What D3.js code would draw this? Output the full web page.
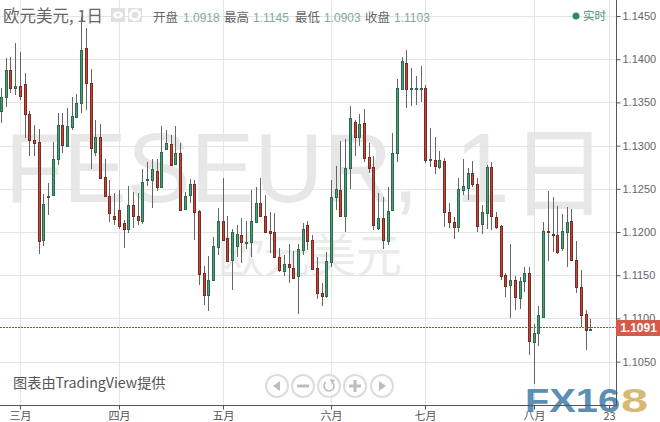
<!DOCTYPE html>
<html><head><meta charset="utf-8">
<script src="https://cdn.jsdelivr.net/npm/d3@7"></script>
<style>
html,body{margin:0;padding:0;background:#fff;overflow:hidden}
svg{display:block}
text{font-family:"Liberation Sans",Arial,"Noto Sans CJK SC",sans-serif}
.cjk{font-family:"Noto Sans CJK SC","Liberation Sans",sans-serif}
</style></head><body>
<div id="chart"></div>
<script>
const opens=[1.1340,1.1356,1.1387,1.1367,1.1369,1.1371,1.1337,1.1306,1.1304,1.1191,
1.1240,1.1243,1.1284,1.1324,1.1300,1.1322,1.1333,1.1349,1.1413,1.1372,
1.1293,1.1310,1.1264,1.1242,1.1219,1.1225,1.1210,1.1203,1.1231,1.1218,
1.1213,1.1260,1.1260,1.1271,1.1252,1.1296,1.1302,1.1279,1.1291,1.1227,
1.1243,1.1255,1.1224,1.1152,1.1127,1.1145,1.1183,1.1213,1.1193,1.1168,
1.1184,1.1197,1.1188,1.1189,1.1212,1.1234,1.1219,1.1201,1.1200,1.1171,
1.1155,1.1163,1.1158,1.1149,1.1179,1.1208,1.1191,1.1158,1.1129,1.1126,
1.1165,1.1240,1.1249,1.1219,1.1274,1.1327,1.1310,1.1326,1.1287,1.1275,
1.1205,1.1216,1.1190,1.1225,1.1291,1.1366,1.1396,1.1365,1.1367,1.1367,
1.1367,1.1284,1.1283,1.1275,1.1282,1.1223,1.1212,1.1206,1.1249,1.1251,
1.1268,1.1256,1.1209,1.1222,1.1275,1.1217,1.1207,1.1150,1.1139,1.1144,
1.1124,1.1143,1.1152,1.1073,1.1083,1.1102,1.1201,1.1198,1.1196,1.1181,
1.1200,1.1213,1.1168,1.1136,1.1105,1.1087];
const closes=[1.1356,1.1387,1.1367,1.1369,1.1357,1.1336,1.1306,1.1303,1.1190,1.1232,
1.1242,1.1284,1.1324,1.1301,1.1323,1.1334,1.1349,1.1411,1.1372,1.1297,
1.1310,1.1263,1.1242,1.1222,1.1215,1.1207,1.1203,1.1231,1.1218,1.1214,
1.1258,1.1261,1.1273,1.1252,1.1293,1.1303,1.1278,1.1291,1.1226,1.1242,
1.1255,1.1223,1.1151,1.1127,1.1145,1.1184,1.1213,1.1191,1.1167,1.1200,
1.1198,1.1188,1.1189,1.1213,1.1233,1.1219,1.1200,1.1199,1.1171,1.1156,
1.1163,1.1159,1.1147,1.1180,1.1203,1.1190,1.1157,1.1129,1.1126,1.1166,
1.1241,1.1250,1.1219,1.1274,1.1332,1.1310,1.1325,1.1286,1.1274,1.1208,
1.1216,1.1191,1.1224,1.1291,1.1367,1.1398,1.1365,1.1367,1.1367,1.1367,
1.1283,1.1284,1.1276,1.1283,1.1223,1.1212,1.1206,1.1250,1.1253,1.1268,
1.1256,1.1207,1.1223,1.1275,1.1219,1.1206,1.1149,1.1138,1.1145,1.1125,
1.1143,1.1153,1.1074,1.1083,1.1104,1.1201,1.1200,1.1197,1.1177,1.1201,
1.1211,1.1168,1.1136,1.1104,1.1087,1.1088];
const highs=[1.1367,1.1401,1.1403,1.1419,1.1408,1.1384,1.1340,1.1324,1.1319,1.1244,
1.1257,1.1304,1.1338,1.1338,1.1344,1.1356,1.1360,1.1449,1.1436,1.1389,
1.1330,1.1325,1.1284,1.1260,1.1245,1.1249,1.1214,1.1253,1.1246,1.1245,
1.1273,1.1281,1.1285,1.1285,1.1323,1.1318,1.1312,1.1323,1.1303,1.1246,
1.1261,1.1260,1.1225,1.1161,1.1172,1.1194,1.1228,1.1263,1.1218,1.1203,
1.1208,1.1216,1.1213,1.1249,1.1252,1.1262,1.1243,1.1223,1.1222,1.1182,
1.1173,1.1186,1.1178,1.1186,1.1210,1.1213,1.1197,1.1171,1.1141,1.1177,
1.1260,1.1276,1.1305,1.1308,1.1346,1.1330,1.1337,1.1342,1.1303,1.1288,
1.1245,1.1241,1.1252,1.1315,1.1377,1.1403,1.1411,1.1390,1.1381,1.1392,
1.1370,1.1320,1.1310,1.1294,1.1286,1.1233,1.1217,1.1262,1.1284,1.1274,
1.1282,1.1262,1.1231,1.1278,1.1281,1.1223,1.1208,1.1153,1.1186,1.1149,
1.1148,1.1159,1.1159,1.1094,1.1114,1.1211,1.1247,1.1241,1.1230,1.1221,
1.1229,1.1227,1.1190,1.1156,1.1110,1.1099];
const lows=[1.1326,1.1345,1.1361,1.1359,1.1353,1.1309,1.1288,1.1288,1.1175,1.1184,
1.1220,1.1243,1.1277,1.1292,1.1298,1.1318,1.1333,1.1338,1.1341,1.1273,
1.1288,1.1262,1.1241,1.1212,1.1208,1.1203,1.1182,1.1199,1.1205,1.1208,
1.1209,1.1253,1.1228,1.1248,1.1251,1.1296,1.1277,1.1278,1.1225,1.1225,
1.1234,1.1191,1.1139,1.1116,1.1109,1.1145,1.1173,1.1191,1.1166,1.1133,
1.1171,1.1164,1.1180,1.1171,1.1212,1.1219,1.1200,1.1176,1.1171,1.1154,
1.1149,1.1141,1.1146,1.1105,1.1173,1.1179,1.1157,1.1122,1.1114,1.1124,
1.1159,1.1225,1.1219,1.1200,1.1250,1.1288,1.1300,1.1281,1.1268,1.1202,
1.1202,1.1180,1.1185,1.1225,1.1281,1.1365,1.1344,1.1346,1.1347,1.1350,
1.1280,1.1275,1.1267,1.1273,1.1206,1.1205,1.1192,1.1200,1.1243,1.1237,
1.1252,1.1200,1.1198,1.1203,1.1202,1.1204,1.1144,1.1125,1.1100,1.1110,
1.1111,1.1131,1.1058,1.1024,1.1068,1.1102,1.1166,1.1177,1.1175,1.1178,
1.1160,1.1168,1.1129,1.1090,1.1063,1.1085];
const priceTicks=[1.1450,1.1400,1.1350,1.1300,1.1250,1.1200,1.1150,1.1100,1.1050];
const monthTickIndex=[4,25,47,70,90,113,129];
const monthTickLabels=["三月","四月","五月","六月","七月","八月","23"];
const lastPrice=1.1091;
const headerLabels=["开盘","最高","最低","收盘"];
const headerValues=["1.0918","1.1145","1.0903","1.1103"];

const W=660,H=422,axisX=616.5,axisY=405.5;
const x=d3.scaleLinear().domain([0,opens.length-1]).range([1,590.3]);
const y=d3.scaleLinear().domain([1.12,1.145]).range([232,16]);
const cx=i=>Math.round(x(i))+0.5;
const svg=d3.select("#chart").append("svg").attr("width",W).attr("height",H);

// watermark
const wm=svg.append("g").attr("class","watermark").attr("fill","#e7e7e7");
wm.append("text").attr("transform","translate(4.7,202) scale(.975,1)").attr("font-size",98).text("FESEUR,");
wm.append("text").attr("x",455).attr("y",202).attr("font-size",98).text("1");
wm.append("text").attr("class","cjk").attr("x",510).attr("y",208).attr("font-size",98).text("日");
wm.append("text").attr("class","cjk").attr("x",310).attr("y",272).attr("text-anchor","middle")
  .attr("font-size",46).attr("fill","#ebebeb").text("欧元美元");

// grid
const grid=svg.append("g").attr("stroke","#e4e4e4").attr("stroke-width",1);
grid.selectAll("line.h").data(priceTicks).join("line").attr("class","h")
  .attr("x1",0).attr("x2",axisX).attr("y1",d=>Math.round(y(d))+.5).attr("y2",d=>Math.round(y(d))+.5);
grid.selectAll("line.v").data(monthTickIndex).join("line").attr("class","v")
  .attr("y1",0).attr("y2",axisY).attr("x1",d=>cx(d)).attr("x2",d=>cx(d));

// candles
const idx=d3.range(opens.length);
const bars=svg.append("g").attr("class","candles");
bars.selectAll("line.wick").data(idx).join("line").attr("class","wick")
  .attr("x1",cx).attr("x2",cx)
  .attr("y1",i=>Math.round(y(highs[i]))).attr("y2",i=>Math.round(y(lows[i])))
  .attr("stroke","#666").attr("stroke-width",1);
bars.selectAll("rect").data(idx).join("rect")
  .attr("x",i=>cx(i)-1).attr("width",2)
  .attr("y",i=>Math.round(y(Math.max(opens[i],closes[i])))+.5)
  .attr("height",i=>Math.max(1,Math.round(y(Math.min(opens[i],closes[i])))-Math.round(y(Math.max(opens[i],closes[i])))))
  .attr("fill",i=>closes[i]>=opens[i]?"#4f9d76":"#c2493a")
  .attr("stroke",i=>closes[i]>=opens[i]?"#2b6a4c":"#7a2a20").attr("stroke-width",1);

// last price line
svg.append("line").attr("x1",0).attr("x2",axisX).attr("y1",Math.round(y(lastPrice))+1.5).attr("y2",Math.round(y(lastPrice))+1.5)
  .attr("stroke","#c0432f").attr("stroke-width",1).attr("stroke-dasharray","2,1");

// logo (under the axis)
svg.append("text").attr("x",525).attr("y",412).attr("font-size",34).attr("font-weight","bold").attr("fill","#4f86ad").attr("textLength",95).attr("lengthAdjust","spacingAndGlyphs").attr("opacity",.92).text("FX16");
svg.append("text").attr("x",621).attr("y",412).attr("font-size",34).attr("font-weight","bold").attr("fill","#d8b56f").attr("textLength",27).attr("lengthAdjust","spacingAndGlyphs").attr("opacity",.95).text("8");

// axes
const yAxis=d3.axisRight(y).tickValues(priceTicks).tickFormat(d3.format(".4f")).tickSize(4).tickPadding(2);
const gy=svg.append("g").attr("transform",`translate(${axisX},0)`).call(yAxis);
gy.select(".domain").remove();
gy.selectAll("text").attr("font-size",11).attr("fill","#666").attr("font-family","'Liberation Sans',sans-serif");
gy.selectAll("line").attr("stroke","#555");
const xAxis=d3.axisBottom(x).tickValues(monthTickIndex).tickFormat((d,i)=>monthTickLabels[i]).tickSize(4).tickPadding(2.5);
const gx=svg.append("g").attr("transform",`translate(0,${axisY})`).call(xAxis);
gx.select(".domain").remove();
gx.selectAll(".tick").attr("transform",d=>`translate(${cx(d)},0)`);
gx.selectAll("text").attr("class","cjk").attr("font-size",11).attr("fill","#555").attr("font-family","'Noto Sans CJK SC',sans-serif");
gx.selectAll("line").attr("stroke","#555");
svg.append("line").attr("x1",0).attr("x2",axisX+.5).attr("y1",axisY).attr("y2",axisY).attr("stroke","#555");
svg.append("line").attr("x1",axisX).attr("x2",axisX).attr("y1",0).attr("y2",axisY).attr("stroke","#555");

// last price tag
svg.append("rect").attr("x",616).attr("y",320).attr("width",44).attr("height",16).attr("fill","#d65a4a");
svg.append("text").attr("x",638.5).attr("y",332).attr("text-anchor","middle").attr("font-size",12).attr("font-weight","bold").attr("fill","#fff").text(d3.format(".4f")(lastPrice));

// title
svg.append("text").attr("class","cjk").attr("x",3).attr("y",22).attr("font-size",16.5).attr("fill","#666").text("欧元美元, 1日");
// icons
[111,128].forEach((px,k)=>{
  svg.append("rect").attr("x",px).attr("y",8).attr("width",14).attr("height",14).attr("fill","#e0e0e0");
  if(k===0){
    svg.append("ellipse").attr("cx",px+7).attr("cy",15).attr("rx",5).attr("ry",3.5).attr("fill","#fff");
    svg.append("circle").attr("cx",px+7).attr("cy",15).attr("r",1.8).attr("fill","#e0e0e0");
  }else{
    svg.append("circle").attr("cx",px+7).attr("cy",15).attr("r",4.5).attr("fill","none").attr("stroke","#fff").attr("stroke-width",2.4);
    svg.append("circle").attr("cx",px+7).attr("cy",15).attr("r",5.6).attr("fill","none").attr("stroke","#fff").attr("stroke-width",1.6).attr("stroke-dasharray","2,2.4");
  }
});
// OHLC header
const labelX=[153,224,295,365], valueX=[183,253,324,394];
headerLabels.forEach((t,i)=>{
  svg.append("text").attr("class","cjk").attr("x",labelX[i]).attr("y",22).attr("font-size",12.5).attr("fill","#666").text(t);
  svg.append("text").attr("x",valueX[i]).attr("y",22).attr("font-size",12).attr("fill","#7fab95").text(headerValues[i]);
});
// realtime
svg.append("circle").attr("cx",576).attr("cy",16).attr("r",3.5).attr("fill","#2e8b5f");
svg.append("text").attr("class","cjk").attr("x",583).attr("y",20).attr("font-size",11.5).attr("fill","#4f9273").text("实时");

// attribution
svg.append("text").attr("class","cjk").attr("x",13).attr("y",388).attr("font-size",14.2).attr("fill","#555").text("图表由TradingView提供");

// nav buttons
const nav=[277,303,329,355,382];
const ng=svg.append("g");
nav.forEach(nx=>ng.append("circle").attr("cx",nx).attr("cy",386).attr("r",11).attr("fill","rgba(255,255,255,.75)").attr("stroke","#dcdcdc").attr("stroke-width",2));
const ic="#bdbdbd";
ng.append("path").attr("d","M273,386 L280,381 L280,391 Z").attr("fill",ic);
ng.append("rect").attr("x",297).attr("y",384.5).attr("width",12).attr("height",3).attr("fill",ic);
ng.append("path").attr("d",d3.arc()({innerRadius:4.2,outerRadius:5.8,startAngle:0.7,endAngle:5.6})).attr("transform","translate(329,386)").attr("fill",ic);
ng.append("path").attr("d","M330,379 L335,380 L332,384 Z").attr("fill",ic);
ng.append("rect").attr("x",349).attr("y",384.5).attr("width",12).attr("height",3).attr("fill",ic);
ng.append("rect").attr("x",353.5).attr("y",380).attr("width",3).attr("height",12).attr("fill",ic);
ng.append("path").attr("d","M386,386 L379,381 L379,391 Z").attr("fill",ic);
</script>
</body></html>
